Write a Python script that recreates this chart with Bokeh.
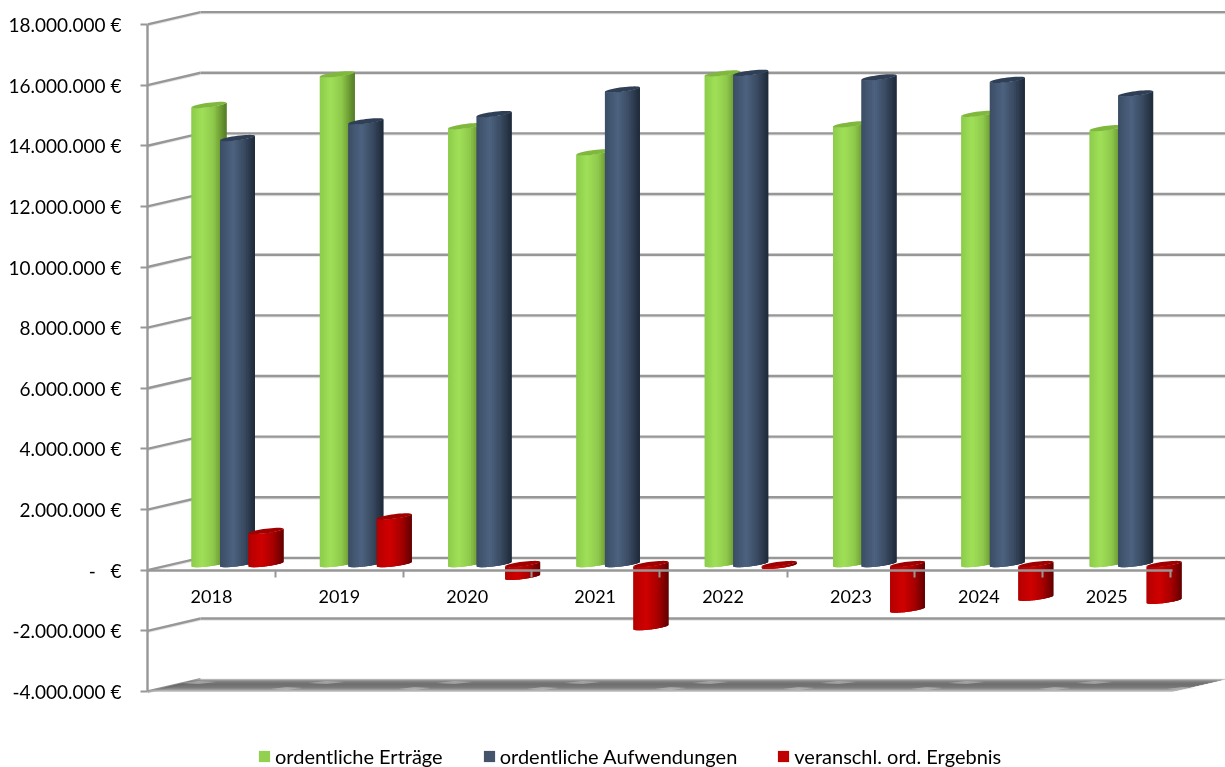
import math
from bokeh.embed import file_html
from bokeh.resources import INLINE
from bokeh.plotting import figure
from bokeh.models import Range1d, FixedTicker, LinearAxis, Legend, LegendItem

years = ["2018", "2019", "2020", "2021", "2022", "2023", "2024", "2025"]
ertraege = [15.14e6, 16.15e6, 14.44e6, 13.58e6, 16.18e6, 14.50e6, 14.85e6, 14.38e6]
aufwendungen = [14.05e6, 14.60e6, 14.84e6, 15.65e6, 16.20e6, 16.05e6, 15.97e6, 15.52e6]
ergebnis = [1.09e6, 1.57e6, -0.42e6, -2.08e6, -0.06e6, -1.50e6, -1.11e6, -1.21e6]
y_ticks = [-4000000 + 2000000 * i for i in range(12)]
series_names = ["ordentliche Erträge", "ordentliche Aufwendungen", "veranschl. ord. Ergebnis"]
legend_colors = ["#92d050", "#44546a", "#c00000"]

W, H = 1225, 767
LEFT = 147
Y0 = 569.7
PXV = 30.32 / 1e6
UPX = 127.9
GRID = "#979797"
FONT = "Lato"

def X(px):
    return (px - LEFT) / UPX - 0.5

def V(py):
    return (Y0 - py) / PXV

p = figure(width=W, height=H, output_backend="svg", toolbar_location=None,
           x_range=Range1d(-0.5, -0.5 + (W - LEFT) / UPX),
           y_range=Range1d(V(H), V(0)),
           x_axis_location=None, y_axis_location=None,
           min_border_left=LEFT, min_border_right=0, min_border_top=0, min_border_bottom=0,
           outline_line_color=None, background_fill_color="white", border_fill_color="white")
p.grid.visible = False
p.styles = {"position": "fixed", "left": "0px", "top": "0px"}

DX, DY = 53.0, 12.3
def py_front(v):
    return Y0 - v * PXV

# back wall and side wall
xs0, ys0, xs1, ys1 = [], [], [], []
for v in y_ticks:
    yf = py_front(v)
    xs0 += [X(LEFT)]; ys0 += [V(yf)]; xs1 += [X(LEFT + DX)]; ys1 += [V(yf - DY)]
    if v > y_ticks[0]:
        xs0 += [X(LEFT + DX)]; ys0 += [V(yf - DY)]; xs1 += [X(W + 5)]; ys1 += [V(yf - DY)]
p.segment(xs0, [y - 1.4 / PXV for y in ys0], xs1, [y - 1.4 / PXV for y in ys1], line_color="#e4e4e4", line_width=1.5)
p.segment(xs0, ys0, xs1, ys1, line_color=GRID, line_width=2.4)

# floor
band_colors = ["#b0b0b0", "#8e8e8e", "#787878", "#6e6e6e", "#686868", "#666666", "#686868", "#6c6c6c", "#727272", "#808080", "#969696", "#b4b4b4"]
fx, fy, fc = [], [], []
yb = py_front(-4e6)
for i, c in enumerate(band_colors):
    d0, d1 = i / len(band_colors), (i + 1) / len(band_colors)
    fx.append([X(LEFT + DX * (1 - d0)), X(W - DX * d0), X(W - DX * d1), X(LEFT + DX * (1 - d1))])
    fy.append([V(yb - DY * (1 - d0)), V(yb - DY * (1 - d0)), V(yb - DY * (1 - d1)), V(yb - DY * (1 - d1))])
    fc.append(c)
p.patches(fx, fy, fill_color=fc, line_color=fc, line_width=0.4)
# floor highlights
sx, sy = [], []
for i in range(8):
    for x0, yy, half in ((198 + 128 * i, yb - 9, 18), (286 + 128 * i, yb - 3, 16)):
        if x0 + half < W:
            sx.append([X(x0 - half), X(x0), X(x0 + half), X(x0)])
            sy.append([V(yy + 0.4), V(yy - 1.5), V(yy - 0.4), V(yy + 1.5)])
p.patches(sx, sy, fill_color="#dcdcdc", fill_alpha=0.42, line_color=None)

# cylinders
PALS = [
    ([(0, "#8ccc4a"), (.3, "#a0e058"), (.62, "#8fc94c"), (.82, "#6f9f36"), (1, "#557d28")], "#7fb83c"),
    ([(0, "#3c4e66"), (.38, "#4c6280"), (.68, "#3a4b62"), (1, "#1e2a39")], "#2f3f55"),
    ([(0, "#b40000"), (.36, "#d00000"), (.7, "#a80000"), (1, "#620000")], "#a00000"),
]

def rgb(h):
    return tuple(int(h[i:i + 2], 16) for i in (1, 3, 5))

def shade(stops, s):
    for (a, ca), (b, cb) in zip(stops, stops[1:]):
        if s <= b:
            f = (s - a) / (b - a)
            r0, r1 = rgb(ca), rgb(cb)
            return "#%02x%02x%02x" % tuple(round(r0[k] + (r1[k] - r0[k]) * f) for k in range(3))
    return stops[-1][1]

HALF, TILT, B, STRIPS = 17.5, 2.2, 2.3, 30
px_c0, px_group, px_sep = 237.0, 128.3, 28.5
PLANE = DY / 2
cx, cy, cc = [], [], []

def add_cyl(c, v_top, v_bot, pal):
    stops, cap = pal
    yt = py_front(v_top) - PLANE
    yb_ = py_front(v_bot) - PLANE
    for k in range(STRIPS):
        t0 = math.pi * (1 - k / STRIPS)
        # each strip runs on under the next one, so that no seams appear
        t1 = max(0.0, math.pi * (1 - (k + 2.5) / STRIPS))
        xa, xb = c + HALF * math.cos(t0), c + HALF * math.cos(t1)
        top = [yt - TILT * math.cos(t) + B * math.sin(t) for t in (t0, t1)]
        bot = [yb_ - TILT * math.cos(t) + B * math.sin(t) for t in (t0, t1)]
        tm = math.pi * (1 - (k + 0.5) / STRIPS)
        s = (math.cos(tm) + 1) / 2
        cx.append([X(xa), X(xb), X(xb), X(xa)])
        cy.append([V(top[0]), V(top[1]), V(bot[1]), V(bot[0])])
        cc.append(shade(stops, s))
    ts = [2 * math.pi * j / 40 for j in range(40)]
    cx.append([X(c + HALF * math.cos(t)) for t in ts])
    cy.append([V(yt - TILT * math.cos(t) + B * math.sin(t)) for t in ts])
    cc.append(cap)

for i in range(len(years)):
    c = px_c0 + px_group * i
    for j, vals in enumerate((ertraege, aufwendungen, ergebnis)):
        v = vals[i]
        add_cyl(c + (j - 1) * px_sep, max(v, 0), min(v, 0), PALS[j])
p.patches(cx, cy, fill_color=cc, line_color=None)

# axes
yaxis = LinearAxis(ticker=FixedTicker(ticks=y_ticks), bounds=(-4e6, 18e6),
                   major_label_overrides={v: ("-\u00a0\u00a0\u00a0€" if v == 0 else f"{v:,.0f} €".replace(",", ".")) for v in y_ticks},
                   axis_line_color=GRID, axis_line_width=2.4,
                   major_tick_line_color=GRID, major_tick_line_width=2, major_tick_out=7, major_tick_in=0,
                   minor_tick_line_color=None,
                   major_label_text_font=FONT, major_label_text_font_size="19px", major_label_text_color="black",
                   major_label_standoff=19)
p.add_layout(yaxis, "left")

xaxis = LinearAxis(ticker=FixedTicker(ticks=list(range(8)), minor_ticks=[i + 0.5 for i in range(8)]),
                   bounds=(-0.5, X(1172)), fixed_location=0,
                   major_label_overrides={i: y for i, y in enumerate(years)},
                   axis_line_color=GRID, axis_line_width=2.4,
                   major_tick_line_color=None, major_tick_out=0, major_tick_in=0,
                   minor_tick_line_color=GRID, minor_tick_line_width=2, minor_tick_out=7, minor_tick_in=0,
                   major_label_text_font=FONT, major_label_text_font_size="18px", major_label_text_color="black",
                   major_label_standoff=13)
p.add_layout(xaxis, "below")

# legend
items = []
for name, col in zip(series_names, legend_colors):
    r = p.vbar(x=[0], top=[0], bottom=[0], width=0, fill_color=col, line_color=None)
    items.append(LegendItem(label=name, renderers=[r]))
legend = Legend(items=items, orientation="horizontal", location=(257 - LEFT, -1),
                spacing=39, padding=0, margin=0, label_standoff=4,
                glyph_width=14, glyph_height=14, border_line_color=None, background_fill_color=None,
                label_text_font=FONT, label_text_font_size="20px", label_text_color="black",
                label_height=18)
p.add_layout(legend, "center")

open("out.html", "w").write(file_html(p, INLINE))
